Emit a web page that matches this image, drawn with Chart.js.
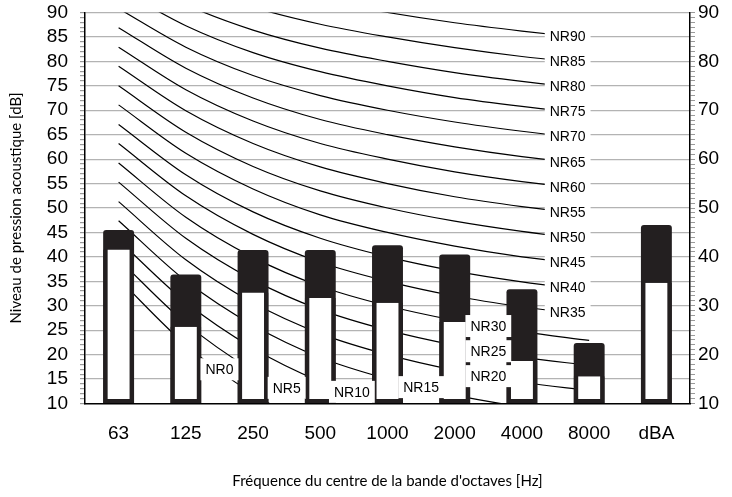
<!DOCTYPE html>
<html>
<head>
<meta charset="utf-8">
<script src="https://cdn.jsdelivr.net/npm/chart.js@4/dist/chart.umd.min.js"></script>
<style>
  body { margin: 0; background: #fff; }
</style>
</head>
<body>
<canvas id="myChart" width="732" height="497"></canvas>
<script>
'use strict';

let bands = ['63', '125', '250', '500', '1000', '2000', '4000', '8000', 'dBA'];

// measured levels (white part) and upper level (black part)
let lowerLevels = [41.5, 25.7, 32.7, 31.6, 30.6, 26.7, 18.7, 15.6, 34.7];
let upperLevels = [45.5, 36.4, 41.4, 41.4, 42.4, 40.5, 33.4, 22.4, 46.5];

// NR curves, 63 Hz .. 8000 Hz
let nrLevels = [0, 5, 10, 15, 20, 25, 30, 35, 40, 45, 50, 55, 60, 65, 70, 75, 80, 85, 90];
let nrCurves = [
  [35.5, 22.0, 12.0, 4.8, 0, -3.5, -6.1, -8.0],
  [39.5, 26.4, 16.7, 9.7, 5, 1.6, -1.0, -2.9],
  [43.4, 30.7, 21.3, 14.5, 10, 6.7, 4.2, 2.3],
  [47.4, 35.1, 26.0, 19.4, 15, 11.7, 9.3, 7.5],
  [51.3, 39.4, 30.6, 24.3, 20, 16.8, 14.4, 12.6],
  [55.3, 43.8, 35.3, 29.2, 25, 21.9, 19.5, 17.8],
  [59.2, 48.1, 39.9, 34.0, 30, 27.0, 24.7, 22.9],
  [63.2, 52.5, 44.6, 38.9, 35, 32.0, 29.8, 28.1],
  [67.1, 56.8, 49.2, 43.8, 40, 37.1, 34.9, 33.2],
  [71.1, 61.2, 53.9, 48.6, 45, 42.2, 40.0, 38.4],
  [75.0, 65.5, 58.5, 53.5, 50, 47.3, 45.2, 43.5],
  [79.0, 69.9, 63.2, 58.4, 55, 52.3, 50.3, 48.7],
  [82.9, 74.2, 67.8, 63.2, 60, 57.4, 55.4, 53.8],
  [86.9, 78.6, 72.5, 68.1, 65, 62.5, 60.5, 59.0],
  [90.8, 82.9, 77.1, 73.0, 70, 67.6, 65.7, 64.1],
  [94.8, 87.3, 81.8, 77.9, 75, 72.6, 70.8, 69.3],
  [98.7, 91.6, 86.4, 82.7, 80, 77.7, 75.9, 74.4],
  [102.7, 96.0, 91.1, 87.6, 85, 82.8, 81.0, 79.6],
  [106.6, 100.3, 95.7, 92.5, 90, 87.9, 86.2, 84.7]
];
// where each NR label sits along its curve (category index)
let nrLabelAt = [1.5, 2.5, 3.47, 4.5, 5.5, 5.5, 5.5, 6.68, 6.68, 6.68, 6.68, 6.68, 6.68, 6.68, 6.68, 6.68, 6.68, 6.68, 6.68];

let barColor = '#231f20';
let gridColor = '#b3b3b3';
let tickColor = '#9a9a9a';

Chart.defaults.font.family = '"Liberation Sans", Arial, sans-serif';
Chart.defaults.color = '#000';

let nrLabelPlugin = {
  id: 'nrLabels',
  afterDatasetsDraw(chart) {
    let ctx = chart.ctx;
    let x = chart.scales.x;
    let y = chart.scales.y;
    ctx.save();
    ctx.font = '14px "Liberation Sans", Arial, sans-serif';
    ctx.textAlign = 'center';
    ctx.textBaseline = 'middle';
    for (let i = 0; i < nrLevels.length; i++) {
      let at = nrLabelAt[i];
      let curve = nrCurves[i];
      let k = Math.floor(at);
      let v = curve[k] + (curve[k + 1] - curve[k]) * (at - k);
      let px = x.getPixelForValue(at);
      let py = y.getPixelForValue(v);
      let text = 'NR' + nrLevels[i];
      let w = ctx.measureText(text).width + 10;
      ctx.fillStyle = '#fff';
      ctx.fillRect(px - w / 2, py - 11, w, 22);
      ctx.fillStyle = '#000';
      ctx.fillText(text, px, py + 1);
    }
    ctx.restore();
  }
};

function noEndPadding(scale) {
  scale.paddingTop = 0;
  scale.paddingBottom = 0;
}

let datasets = [];

datasets.push({
  type: 'bar',
  data: lowerLevels,
  base: 10,
  grouped: false,
  backgroundColor: '#fff',
  borderColor: barColor,
  borderWidth: { left: 4.5, right: 4.5, bottom: 4, top: 0 },
  borderSkipped: false,
  barPercentage: 0.46,
  categoryPercentage: 1,
  order: 1
});

datasets.push({
  type: 'bar',
  data: upperLevels,
  base: 10,
  grouped: false,
  backgroundColor: barColor,
  borderWidth: 0,
  borderSkipped: false,
  borderRadius: { topLeft: 3, topRight: 3 },
  barPercentage: 0.46,
  categoryPercentage: 1,
  order: 2
});

nrCurves.forEach(curve => {
  datasets.push({
    type: 'line',
    data: curve,
    borderColor: '#000',
    borderWidth: 1.2,
    pointRadius: 0,
    fill: false,
    cubicInterpolationMode: 'monotone',
    order: 3
  });
});

new Chart(document.getElementById('myChart'), {
  data: {
    labels: bands,
    datasets: datasets
  },
  options: {
    responsive: false,
    animation: false,
    layout: { padding: { top: 12.5, left: 0, right: 0, bottom: 0 } },
    plugins: {
      legend: { display: false },
      tooltip: { enabled: false }
    },
    scales: {
      x: {
        offset: true,
        grid: { display: false },
        border: { display: true, color: '#000', width: 1.5 },
        ticks: { font: { size: 19 }, color: '#000', padding: 11, maxRotation: 0, autoSkip: false },
        title: {
          display: true,
          text: 'Fréquence du centre de la bande d\'octaves [Hz]',
          font: { family: 'Lato, "Open Sans", sans-serif', size: 15 },
          color: '#000',
          padding: { top: 0, bottom: 7 }
        },
        afterFit: scale => {
          scale.height = 93.5;
          scale.paddingLeft = 0;
          scale.paddingRight = 0;
        }
      },
      y: {
        position: 'left',
        min: 10,
        max: 90,
        ticks: {
          stepSize: 1,
          autoSkip: false,
          font: { size: 19 },
          color: '#000',
          padding: 12,
          callback: v => (v % 5 === 0 ? v : '')
        },
        grid: {
          color: c => (c.tick && c.tick.value % 5 === 0 && c.tick.value !== 10 ? gridColor : 'rgba(0,0,0,0)'),
          tickColor: tickColor,
          tickLength: 5,
          lineWidth: 1.2
        },
        border: { color: '#000', width: 1.5 },
        title: {
          display: true,
          text: 'Niveau de pression acoustique [dB]',
          font: { family: 'Lato, "Open Sans", sans-serif', size: 15 },
          color: '#000',
          padding: { top: 7, bottom: 0 }
        },
        afterFit: scale => {
          scale.width = 85;
          noEndPadding(scale);
        }
      },
      y2: {
        position: 'right',
        min: 10,
        max: 90,
        ticks: {
          stepSize: 1,
          autoSkip: false,
          font: { size: 19 },
          color: '#000',
          padding: 3,
          callback: v => (v % 10 === 0 ? v : '')
        },
        grid: {
          drawOnChartArea: false,
          tickColor: tickColor,
          tickLength: 5
        },
        border: { color: '#000', width: 1.5 },
        afterFit: scale => {
          scale.width = 42;
          noEndPadding(scale);
        }
      }
    }
  },
  plugins: [nrLabelPlugin]
});
</script>
</body>
</html>
